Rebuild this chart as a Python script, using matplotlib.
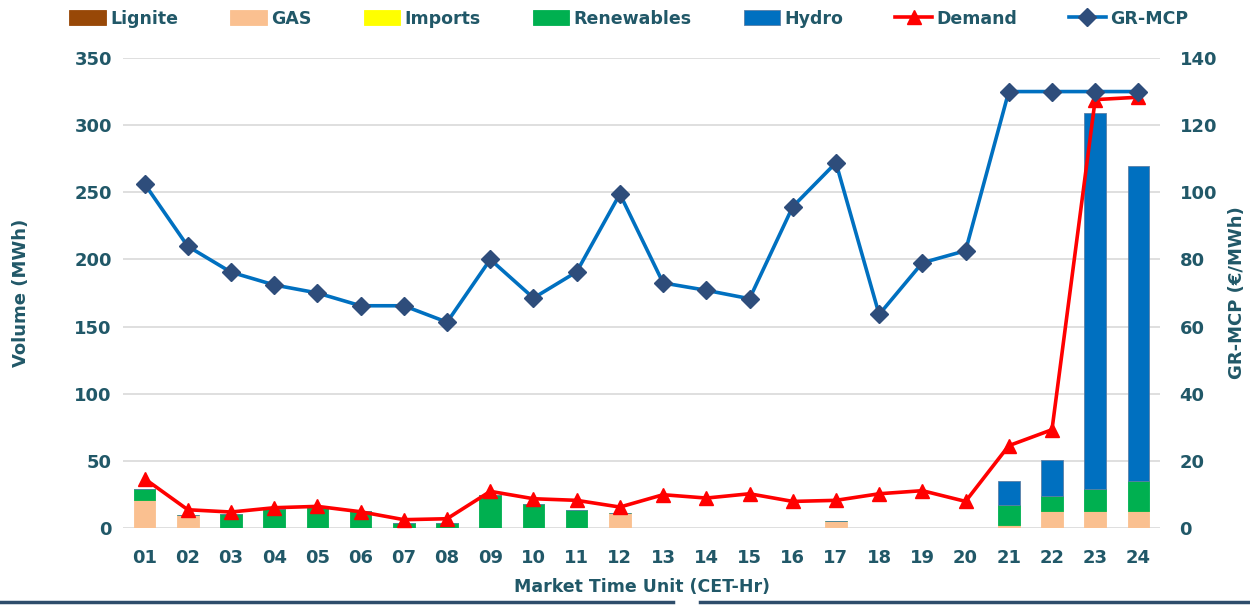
import matplotlib.pyplot as plt
import numpy as np
from matplotlib.lines import Line2D

hours = ['01', '02', '03', '04', '05', '06', '07', '08', '09', '10', '11', '12',
         '13', '14', '15', '16', '17', '18', '19', '20', '21', '22', '23', '24']

lignite = [0] * 24
gas = [20.6, 9.4, 0, 0, 0, 0, 0, 0, 0, 0, 0, 10.9,
       0, 0, 0, 0, 5.0, 0, 0, 0, 2.5, 12.4, 12.4, 12.4]
imports = [0] * 24
renewables = [8.2, 0, 10.7, 14.4, 15.4, 12.4, 3.5, 3.5, 24.3, 17.6, 13.4, 0,
              0, 0, 0, 0, 0, 0, 0, 0, 14.4, 11.4, 16.6, 22.4]
hydro = [0, 0, 0, 0, 0, 0, 0, 0, 0, 0, 0, 0,
         0, 0, 0, 0, 0, 0, 0, 0, 18.1, 26.8, 280.2, 234.6]
demand = [36.7, 13.6, 11.9, 15.1, 16.1, 12.1, 6.2, 6.9, 27.3, 21.8, 20.6, 15.6,
          24.8, 22.3, 25.5, 19.8, 20.6, 25.5, 27.8, 19.8, 61.3, 73.2, 319.0, 320.8]
mcp = [102.5, 83.9, 76.2, 72.4, 70.0, 66.2, 66.2, 61.3, 80.0, 68.5, 76.3, 99.5,
       73.0, 70.8, 68.3, 95.7, 108.8, 63.6, 79.0, 82.6, 130.0, 130.0, 130.0, 130.0]

txt = '#215868'
plt.rcParams['font.family'] = ['DejaVu Sans']
plt.rcParams['font.weight'] = 'bold'

fig = plt.figure(figsize=(12.5, 6.06), dpi=100)
ax = fig.add_axes([0.0984, 0.1287, 0.8296, 0.7756])
ax2 = ax.twinx()

x = np.arange(len(hours))
w = 0.5
bottom = np.zeros(len(hours))
series = [('Lignite', lignite, '#984807'), ('GAS', gas, '#FAC090'),
          ('Imports', imports, '#FFFF00'), ('Renewables', renewables, '#00B050'),
          ('Hydro', hydro, '#0070C0')]
handles = []
for name, vals, col in series:
    vals = np.array(vals, dtype=float)
    b = ax.bar(x, vals, w, bottom=bottom, color=col, label=name, zorder=2,
               edgecolor='#5B7FA6' if name == 'Hydro' else col, linewidth=0.6)
    handles.append(b)
    bottom += vals

ln_d, = ax.plot(x, demand, color='#FF0000', lw=2.6, marker='^', markersize=10,
                label='Demand', zorder=3)
ln_m, = ax2.plot(x, mcp, color='#0070C0', lw=2.6, marker='D', markersize=9,
                 markerfacecolor='#2E4D7B', markeredgecolor='#2E4D7B',
                 label='GR-MCP', zorder=3)

ax.set_xlim(-0.5, 23.5)
ax.set_ylim(0, 350)
ax.set_yticks(range(0, 351, 50))
ax2.set_ylim(0, 140)
ax2.set_yticks(range(0, 141, 20))
ax.set_xticks(x)
ax.set_xticklabels(hours)

ax.grid(axis='y', color='#D9D9D9', lw=1.2, zorder=0)
ax.set_axisbelow(True)
for a in (ax, ax2):
    for s in a.spines.values():
        s.set_visible(False)
    a.tick_params(length=0, labelsize=13, labelcolor=txt)
ax.tick_params(axis='x', pad=15)
ax.tick_params(axis='y', pad=8)
ax2.tick_params(axis='y', pad=14)

ax.set_ylabel('Volume (MWh)', fontsize=13, color=txt, fontweight='bold', labelpad=32)
ax2.set_ylabel('GR-MCP (€/MWh)', fontsize=13, color=txt, fontweight='bold', labelpad=8)
ax.set_xlabel('Market Time Unit (CET-Hr)', fontsize=12.5, color=txt, fontweight='bold', labelpad=8)

leg = fig.legend(handles + [ln_d, ln_m], [h.get_label() for h in handles] + ['Demand', 'GR-MCP'],
                 loc='upper center', bbox_to_anchor=(0.503, 1.01), ncol=7, frameon=False,
                 prop={'size': 12.5, 'weight': 'bold'}, columnspacing=3.0,
                 handlelength=2.1, handleheight=0.9, handletextpad=0.25)
for t in leg.get_texts():
    t.set_color(txt)

fig.add_artist(Line2D([0, 0.538], [0.006, 0.006], color='#2E4D6B', lw=2.5))
fig.add_artist(Line2D([0.56, 1], [0.006, 0.006], color='#2E4D6B', lw=2.5))

plt.savefig('out.png', dpi=100)
